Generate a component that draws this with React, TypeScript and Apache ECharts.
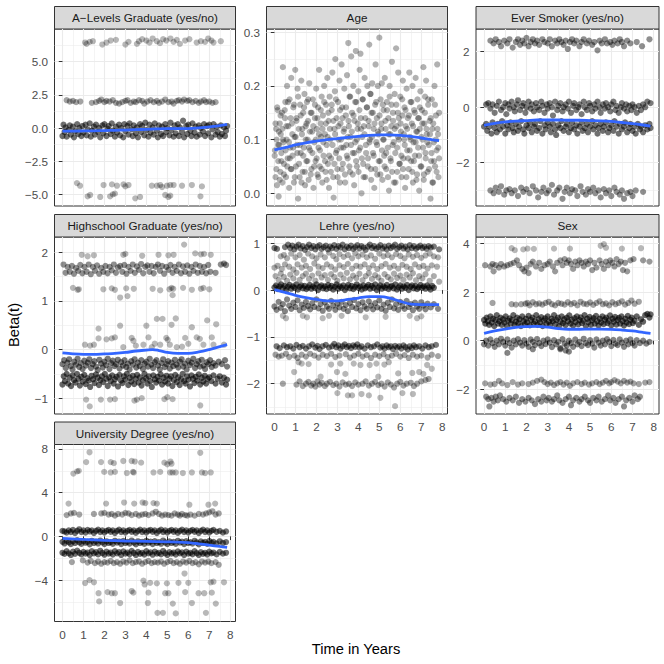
import React, { useEffect, useRef } from "react";
import * as echarts from "echarts";

// ---------------- DATA ----------------
const xTicks = [0, 1, 2, 3, 4, 5, 6, 7, 8];
const xMinor = [0.5, 1.5, 2.5, 3.5, 4.5, 5.5, 6.5, 7.5];

// A-Levels Graduate
const aLevTop = [[1.08,6.45],[1.15,6.35],[1.3,6.5],[1.45,6.55],[1.9,6.3],[2.1,6.45],[2.3,6.6],[2.55,6.65],[3.0,6.3],[3.15,6.5],[3.55,6.35],[3.65,6.55],[3.8,6.7],[4.0,6.6],[4.15,6.45],[4.3,6.75],[4.5,6.55],[4.65,6.4],[4.8,6.7],[4.95,6.6],[5.15,6.75],[5.3,6.5],[5.45,6.65],[5.6,6.35],[5.85,6.6],[6.05,6.7],[6.4,6.45],[6.6,6.55],[6.8,6.5],[6.95,6.75],[7.1,6.6],[7.2,6.45],[7.55,6.55]];
const aLev2 = [[0.2,2.1],[0.35,2.0],[0.5,2.05],[0.65,1.95],[0.85,2.0],[1.4,1.9],[1.6,1.95],[1.75,2.05],[1.85,2.15],[2.0,1.95],[2.1,2.05],[2.25,2.0],[2.4,2.1],[2.55,1.9],[2.7,1.85],[2.85,1.95],[3.0,2.05],[3.1,2.1],[3.25,1.9],[3.4,2.0],[3.5,1.95],[3.65,2.1],[3.8,2.05],[3.9,1.85],[4.05,2.0],[4.2,2.1],[4.35,1.95],[4.5,2.05],[4.6,1.9],[4.75,2.0],[4.9,2.15],[5.05,1.95],[5.2,2.0],[5.3,1.85],[5.45,2.05],[5.55,2.1],[5.7,2.0],[5.8,2.15],[5.95,2.05],[6.05,2.1],[6.2,1.95],[6.35,2.05],[6.5,1.9],[6.6,2.0],[6.75,2.1],[6.85,1.95],[7.0,2.0],[7.15,1.9],[7.3,1.95]];
const aLevMain = [[0.0,-0.6],[0.05,0.25],[0.1,-0.3],[0.15,0.05],[0.2,-0.65],[0.3,-0.15],[0.35,0.2],[0.4,-0.5],[0.5,0.1],[0.55,-0.7],[0.6,-0.25],[0.7,0.3],[0.75,-0.45],[0.8,0.0],[0.9,-0.6],[0.95,0.15],[1.0,-0.35],[1.1,0.25],[1.15,-0.55],[1.2,-0.1],[1.3,0.35],[1.35,-0.65],[1.4,-0.2],[1.5,0.1],[1.55,-0.5],[1.6,0.25],[1.7,-0.3],[1.75,0.0],[1.8,-0.7],[1.9,0.2],[1.95,-0.4],[2.0,0.3],[2.1,-0.6],[2.15,-0.05],[2.2,0.15],[2.3,-0.45],[2.35,0.35],[2.4,-0.2],[2.5,-0.65],[2.55,0.1],[2.6,-0.35],[2.7,0.25],[2.75,-0.55],[2.8,0.0],[2.9,-0.7],[2.95,0.3],[3.0,-0.25],[3.1,0.15],[3.15,-0.5],[3.2,0.35],[3.3,-0.1],[3.35,-0.6],[3.4,0.2],[3.5,-0.4],[3.55,0.05],[3.6,-0.7],[3.7,0.3],[3.75,-0.3],[3.8,0.15],[3.9,-0.55],[3.95,0.4],[4.0,-0.15],[4.1,-0.65],[4.15,0.25],[4.2,-0.35],[4.3,0.05],[4.35,-0.5],[4.4,0.35],[4.5,-0.2],[4.55,-0.7],[4.6,0.2],[4.7,-0.45],[4.75,0.1],[4.8,-0.6],[4.9,0.3],[4.95,-0.3],[5.0,0.0],[5.1,-0.55],[5.15,0.4],[5.2,-0.15],[5.3,-0.65],[5.35,0.2],[5.4,-0.4],[5.5,0.3],[5.55,-0.6],[5.6,0.05],[5.7,-0.3],[5.75,0.55],[5.8,-0.7],[5.9,0.15],[5.95,-0.45],[6.0,0.25],[6.1,-0.2],[6.15,-0.6],[6.2,0.35],[6.3,-0.35],[6.35,0.1],[6.4,-0.65],[6.5,0.2],[6.55,-0.5],[6.6,0.0],[6.7,-0.25],[6.75,0.3],[6.8,-0.6],[6.9,0.15],[6.95,-0.4],[7.0,0.25],[7.1,-0.7],[7.15,-0.1],[7.2,0.3],[7.3,-0.5],[7.35,0.1],[7.4,-0.3],[7.5,-0.65],[7.55,0.2],[7.6,-0.45],[7.7,0.05],[7.75,-0.6],[7.8,-0.2],[7.85,0.15]];
const aLevBot = [[0.69,-4.15],[0.84,-4.35],[1.96,-4.3],[2.36,-4.25],[2.6,-4.35],[2.91,-4.25],[3.0,-4.4],[3.15,-4.3],[4.26,-4.35],[4.5,-4.35],[4.66,-4.3],[4.75,-4.45],[4.98,-4.35],[5.14,-4.3],[5.3,-4.3],[5.7,-4.35],[6.17,-4.3],[6.65,-4.4],[1.2,-5.15],[1.32,-5.05],[1.8,-5.2],[2.27,-5.15],[2.4,-5.0],[2.5,-4.95],[3.47,-5.3],[3.7,-5.2],[4.9,-5.05],[5.05,-5.2],[5.14,-5.1],[6.58,-5.15]];
const aLevSmooth = [[0,-0.23],[0.5,-0.23],[1,-0.22],[1.5,-0.21],[2,-0.19],[2.5,-0.17],[3,-0.15],[3.5,-0.12],[4,-0.1],[4.5,-0.07],[5,-0.05],[5.5,-0.05],[6,-0.04],[6.5,0.01],[7,0.09],[7.5,0.18],[7.85,0.27]];

// Age
const ageCloud = [[0.02,0.08],[0.05,0.03],[0.08,0.12],[0.1,0.1],[0.12,0.015],[0.15,0.155],[0.18,0.06],[0.2,-0.006],[0.22,0.09],[0.25,0.13],[0.28,0.04],[0.3,0.11],[0.33,0.075],[0.36,0.15],[0.38,0.02],[0.4,0.235],[0.42,0.095],[0.45,0.055],
[0.5,0.14],[0.52,0.17],[0.55,0.03],[0.58,0.1],[0.6,0.2],[0.63,0.065],[0.66,0.125],[0.7,0.01],[0.72,0.175],[0.75,0.085],[0.78,0.045],[0.8,0.215],[0.83,0.13],[0.86,0.07],[0.9,0.16],[0.93,0.02],[0.96,0.105],[0.99,0.23],
[1.02,0.05],[1.05,0.14],[1.08,0.09],[1.1,0.195],[1.13,-0.01],[1.16,0.12],[1.2,0.03],[1.22,0.165],[1.25,0.075],[1.28,0.21],[1.31,0.11],[1.34,0.04],[1.37,0.15],[1.4,0.085],[1.43,0.185],[1.46,0.015],[1.49,0.125],
[1.52,0.06],[1.55,0.17],[1.58,0.1],[1.6,0.135],[1.63,0.025],[1.66,0.205],[1.7,0.08],[1.73,0.15],[1.76,0.045],[1.8,0.115],[1.83,0.175],[1.86,0.01],[1.9,0.095],[1.93,0.14],[1.96,0.06],[1.99,0.195],
[2.02,0.12],[2.05,0.035],[2.08,0.16],[2.1,0.085],[2.13,0.23],[2.16,0.05],[2.2,0.13],[2.22,0.105],[2.25,0.18],[2.28,0.02],[2.31,0.145],[2.34,0.07],[2.37,0.2],[2.4,0.11],[2.43,0.04],[2.46,0.165],[2.49,0.09],
[2.52,0.215],[2.55,0.055],[2.58,0.135],[2.6,0.01],[2.63,0.18],[2.66,0.1],[2.7,0.065],[2.73,0.155],[2.76,0.225],[2.8,0.03],[2.82,-0.008],[2.85,0.12],[2.88,0.19],[2.9,0.25],[2.93,0.075],[2.96,0.14],
[3.0,0.045],[3.03,0.17],[3.06,0.1],[3.1,0.21],[3.12,0.02],[3.15,0.13],[3.18,0.085],[3.2,0.24],[3.23,0.16],[3.26,0.055],[3.3,0.115],[3.33,0.195],[3.36,0.035],[3.4,0.145],[3.43,0.09],[3.46,0.22],[3.49,0.065],
[3.52,0.28],[3.55,0.125],[3.58,0.18],[3.6,0.04],[3.63,0.105],[3.66,0.255],[3.7,0.15],[3.73,0.075],[3.76,0.2],[3.8,0.015],[3.82,0.135],[3.85,0.095],[3.88,0.265],[3.9,0.17],[3.93,0.05],[3.96,0.12],
[4.0,0.19],[4.03,0.08],[4.06,0.23],[4.1,0.26],[4.12,0.14],[4.15,0.0],[4.18,0.105],[4.2,0.175],[4.23,0.055],[4.26,0.125],[4.3,0.215],[4.33,0.03],[4.36,0.09],[4.4,0.16],[4.43,0.2],[4.46,0.065],[4.49,0.135],
[4.52,0.277],[4.55,0.1],[4.58,0.185],[4.6,0.045],[4.63,0.15],[4.66,0.205],[4.7,0.075],[4.73,0.12],[4.76,0.01],[4.8,0.165],[4.82,0.24],[4.85,0.095],[4.88,0.14],[4.9,0.035],[4.93,0.2],[4.96,0.11],
[5.0,0.29],[5.03,0.06],[5.06,0.175],[5.1,0.13],[5.12,0.205],[5.15,0.025],[5.18,0.1],[5.2,0.155],[5.23,0.07],[5.26,0.215],[5.3,0.12],[5.33,0.045],[5.36,0.17],[5.4,0.085],[5.43,0.14],[5.46,0.005],[5.49,0.2],
[5.52,0.11],[5.55,0.06],[5.58,0.165],[5.6,0.245],[5.63,0.09],[5.66,0.135],[5.7,0.02],[5.73,0.185],[5.76,0.075],[5.8,0.27],[5.82,0.125],[5.85,0.04],[5.88,0.15],[5.9,0.225],[5.93,0.1],[5.96,0.055],
[6.0,0.18],[6.03,0.115],[6.06,0.03],[6.1,0.145],[6.12,0.21],[6.15,0.065],[6.18,0.1],[6.2,0.16],[6.23,0.01],[6.26,0.125],[6.3,0.195],[6.33,0.08],[6.36,0.14],[6.4,0.045],[6.43,0.225],[6.46,0.105],[6.49,0.17],
[6.52,0.06],[6.55,0.13],[6.58,0.2],[6.6,0.02],[6.63,0.095],[6.66,0.155],[6.7,0.07],[6.73,0.215],[6.76,0.115],[6.8,0.035],[6.82,0.175],[6.85,0.085],[6.88,0.14],[6.9,0.005],[6.93,0.12],[6.96,0.19],
[7.0,0.05],[7.03,0.155],[7.06,0.1],[7.1,0.235],[7.12,0.025],[7.15,0.13],[7.18,0.18],[7.2,0.075],[7.23,0.21],[7.26,0.11],[7.3,0.04],[7.33,0.165],[7.36,0.09],[7.4,0.135],[7.44,-0.01],[7.47,0.06],
[7.5,0.175],[7.53,0.12],[7.56,0.02],[7.6,0.095],[7.63,0.2],[7.66,0.05],[7.7,0.145],[7.73,0.08],[7.76,0.24],[7.8,0.11],[7.82,0.03],[7.85,0.065]];
const ageCore = [[0.01,0.07],[0.05,0.13],[0.09,0.045],[0.13,0.16],[0.17,0.09],[0.21,0.115],[0.25,0.025],[0.29,0.145],[0.33,0.06],[0.37,0.12],
[0.41,0.1],[0.45,0.035],[0.49,0.155],[0.53,0.08],[0.57,0.125],[0.61,0.05],[0.65,0.17],[0.69,0.095],[0.73,0.065],[0.77,0.14],
[0.81,0.045],[0.85,0.11],[0.89,0.085],[0.93,0.165],[0.97,0.03],[1.01,0.105],[1.05,0.135],[1.09,0.075],[1.13,0.18],[1.17,0.055],
[1.21,0.09],[1.25,0.145],[1.29,0.02],[1.33,0.12],[1.37,0.07],[1.41,0.16],[1.45,0.04],[1.49,0.1],[1.53,0.13],[1.57,0.06],
[1.61,0.175],[1.65,0.085],[1.69,0.115],[1.73,0.035],[1.77,0.15],[1.81,0.075],[1.85,0.125],[1.89,0.05],[1.93,0.165],[1.97,0.1],
[2.01,0.065],[2.05,0.14],[2.09,0.03],[2.13,0.11],[2.17,0.08],[2.21,0.155],[2.25,0.045],[2.29,0.12],[2.33,0.095],[2.37,0.17],
[2.41,0.06],[2.45,0.13],[2.49,0.025],[2.53,0.105],[2.57,0.15],[2.61,0.07],[2.65,0.12],[2.69,0.04],[2.73,0.165],[2.77,0.09],
[2.81,0.135],[2.85,0.055],[2.89,0.11],[2.93,0.175],[2.97,0.08],[3.01,0.03],[3.05,0.125],[3.09,0.065],[3.13,0.155],[3.17,0.1],
[3.21,0.045],[3.25,0.14],[3.29,0.085],[3.33,0.12],[3.37,0.02],[3.41,0.16],[3.45,0.07],[3.49,0.105],[3.53,0.135],[3.57,0.05],
[3.61,0.18],[3.65,0.09],[3.69,0.115],[3.73,0.035],[3.77,0.145],[3.81,0.075],[3.85,0.17],[3.89,0.06],[3.93,0.1],[3.97,0.13],
[4.01,0.04],[4.05,0.155],[4.09,0.085],[4.13,0.12],[4.17,0.065],[4.21,0.175],[4.25,0.03],[4.29,0.11],[4.33,0.14],[4.37,0.075],
[4.41,0.16],[4.45,0.05],[4.49,0.125],[4.53,0.095],[4.57,0.185],[4.61,0.025],[4.65,0.105],[4.69,0.15],[4.73,0.07],[4.77,0.13],
[4.81,0.045],[4.85,0.17],[4.89,0.09],[4.93,0.115],[4.97,0.06],[5.01,0.145],[5.05,0.035],[5.09,0.12],[5.13,0.08],[5.17,0.165],
[5.21,0.1],[5.25,0.05],[5.29,0.135],[5.33,0.075],[5.37,0.155],[5.41,0.03],[5.45,0.11],[5.49,0.18],[5.53,0.065],[5.57,0.125],
[5.61,0.04],[5.65,0.15],[5.69,0.095],[5.73,0.12],[5.77,0.02],[5.81,0.165],[5.85,0.085],[5.89,0.105],[5.93,0.14],[5.97,0.055],
[6.01,0.13],[6.05,0.07],[6.09,0.175],[6.13,0.045],[6.17,0.11],[6.21,0.09],[6.25,0.155],[6.29,0.03],[6.33,0.12],[6.37,0.065],
[6.41,0.145],[6.45,0.08],[6.49,0.1],[6.53,0.17],[6.57,0.04],[6.61,0.125],[6.65,0.06],[6.69,0.15],[6.73,0.095],[6.77,0.025],
[6.81,0.115],[6.85,0.14],[6.89,0.07],[6.93,0.16],[6.97,0.05],[7.01,0.105],[7.05,0.13],[7.09,0.085],[7.13,0.035],[7.17,0.15],
[7.21,0.065],[7.25,0.12],[7.29,0.095],[7.33,0.175],[7.37,0.045],[7.41,0.11],[7.45,0.14],[7.49,0.075],[7.53,0.02],[7.57,0.13],
[7.61,0.06],[7.65,0.165],[7.69,0.1],[7.73,0.04],[7.77,0.12],[7.81,0.085],[7.85,0.15]];
const ageSmooth = [[0,0.081],[0.5,0.085],[1,0.09],[1.5,0.094],[2,0.097],[2.5,0.1],[3,0.102],[3.5,0.104],[4,0.106],[4.5,0.108],[5,0.109],[5.5,0.109],[6,0.108],[6.5,0.106],[7,0.103],[7.5,0.1],[7.85,0.098]];

// Ever Smoker
const esTop = [[0.3,2.4],[0.45,2.3],[0.55,2.45],[0.7,2.35],[0.8,2.2],[0.95,2.4],[1.1,2.3],[1.2,2.45],[1.35,2.15],[1.5,2.35],[1.6,2.45],[1.7,2.25],[1.8,2.4],[1.9,2.3],[2.0,2.5],[2.1,2.2],[2.2,2.35],[2.3,2.45],[2.4,2.3],[2.5,2.4],[2.6,2.25],[2.75,2.45],[2.85,2.35],[3.0,2.3],[3.1,2.45],[3.2,2.2],[3.35,2.4],[3.45,2.3],[3.55,2.45],[3.65,2.35],[3.75,2.25],[3.85,2.4],[3.95,2.1],[4.05,2.35],[4.15,2.45],[4.25,2.3],[4.35,2.4],[4.5,2.2],[4.6,2.35],[4.7,2.45],[4.85,2.3],[4.95,2.4],[5.1,2.25],[5.2,2.35],[5.35,2.05],[5.45,2.4],[5.55,2.3],[5.7,2.45],[5.8,2.3],[5.95,2.35],[6.05,2.25],[6.15,2.4],[6.3,2.3],[6.4,2.45],[6.5,2.35],[6.6,2.2],[6.75,2.4],[6.9,2.3],[7.2,2.35],[7.45,2.2],[7.8,2.45]];
const esZero = [[0.1,0.1],[0.2,0.15],[0.3,-0.05],[0.4,0.1],[0.5,-0.2],[0.6,0.05],[0.7,0.2],[0.8,-0.1],[0.9,0.0],[1.0,0.15],[1.05,-0.25],[1.15,0.1],[1.2,-0.05],[1.3,0.2],[1.4,0.0],[1.45,-0.15],[1.55,0.1],[1.6,0.25],[1.7,-0.1],[1.8,0.05],[1.85,0.15],[1.95,-0.2],[2.0,0.0],[2.1,0.2],[2.2,-0.05],[2.25,0.1],[2.35,-0.15],[2.45,0.15],[2.5,0.0],[2.6,-0.1],[2.7,0.2],[2.75,0.05],[2.85,-0.2],[2.95,0.1],[3.0,-0.05],[3.1,0.15],[3.2,0.0],[3.25,-0.3],[3.35,0.2],[3.45,-0.1],[3.5,0.05],[3.6,0.15],[3.7,-0.15],[3.75,0.0],[3.85,0.1],[3.95,-0.05],[4.0,0.2],[4.1,-0.2],[4.2,0.05],[4.25,0.15],[4.35,-0.1],[4.45,0.0],[4.5,0.1],[4.6,-0.25],[4.7,0.2],[4.75,0.0],[4.85,-0.1],[4.95,0.15],[5.0,0.05],[5.1,-0.15],[5.2,0.1],[5.25,-0.05],[5.35,0.2],[5.45,0.0],[5.5,-0.2],[5.6,0.1],[5.7,-0.05],[5.75,0.15],[5.85,0.0],[5.95,-0.15],[6.0,0.1],[6.1,0.2],[6.2,-0.1],[6.25,0.05],[6.35,-0.2],[6.45,0.0],[6.5,0.15],[6.6,-0.05],[6.7,0.1],[6.75,-0.15],[6.85,0.05],[6.95,-0.1],[7.0,0.1],[7.1,0.0],[7.2,-0.2],[7.3,0.05],[7.4,-0.1],[7.5,0.1],[7.6,0.0],[7.7,0.2],[7.85,0.15]];
const esNeg = [[0.0,-0.7],[0.1,-0.6],[0.15,-0.85],[0.25,-0.7],[0.35,-0.95],[0.4,-0.55],[0.5,-0.75],[0.6,-0.9],[0.65,-0.6],[0.75,-0.8],[0.85,-0.5],[0.9,-0.7],[1.0,-0.95],[1.1,-0.65],[1.15,-0.8],[1.25,-0.55],[1.35,-0.75],[1.4,-0.9],[1.5,-0.6],[1.6,-0.85],[1.65,-0.7],[1.75,-0.5],[1.85,-0.8],[1.9,-0.95],[2.0,-0.65],[2.1,-0.75],[2.15,-0.55],[2.25,-0.9],[2.35,-0.7],[2.4,-0.6],[2.5,-0.85],[2.6,-0.75],[2.65,-0.5],[2.75,-0.95],[2.85,-0.65],[2.9,-0.8],[3.0,-0.55],[3.1,-0.7],[3.15,-0.9],[3.25,-0.6],[3.35,-0.8],[3.4,-1.0],[3.5,-0.65],[3.6,-0.75],[3.65,-0.5],[3.75,-0.85],[3.85,-0.7],[3.9,-0.6],[4.0,-0.9],[4.1,-0.75],[4.15,-0.55],[4.25,-0.8],[4.35,-0.65],[4.4,-0.95],[4.5,-0.7],[4.6,-0.55],[4.65,-0.85],[4.75,-0.75],[4.85,-0.6],[4.9,-0.9],[5.0,-0.7],[5.1,-0.5],[5.15,-0.8],[5.25,-0.65],[5.35,-0.95],[5.4,-0.75],[5.5,-0.6],[5.6,-0.85],[5.65,-0.7],[5.75,-0.55],[5.85,-0.9],[5.9,-0.75],[6.0,-0.65],[6.1,-0.85],[6.15,-0.5],[6.25,-0.7],[6.35,-0.95],[6.4,-0.6],[6.5,-0.8],[6.6,-0.7],[6.65,-0.55],[6.75,-0.9],[6.85,-0.75],[6.9,-0.6],[7.0,-0.85],[7.1,-0.7],[7.15,-0.95],[7.25,-0.6],[7.35,-0.8],[7.4,-0.7],[7.5,-0.9],[7.6,-0.65],[7.7,-0.8],[7.8,-0.6],[7.85,-0.75]];
const esBot = [[0.3,-3.0],[0.45,-3.1],[0.55,-2.9],[0.7,-3.05],[0.8,-2.85],[0.95,-3.15],[1.05,-3.0],[1.2,-2.95],[1.3,-3.1],[1.45,-3.0],[1.6,-3.2],[1.75,-2.9],[1.85,-3.05],[2.0,-2.95],[2.15,-3.1],[2.3,-2.85],[2.45,-3.0],[2.55,-3.25],[2.7,-3.05],[2.8,-2.9],[2.95,-3.1],[3.05,-3.0],[3.2,-2.8],[3.3,-3.15],[3.45,-3.0],[3.55,-2.9],[3.7,-3.3],[3.8,-3.05],[3.9,-2.9],[4.05,-3.1],[4.15,-2.95],[4.3,-3.0],[4.4,-3.2],[4.55,-2.85],[4.65,-3.05],[4.8,-3.15],[4.9,-2.95],[5.0,-3.05],[5.15,-2.9],[5.25,-3.1],[5.4,-3.0],[5.5,-3.25],[5.65,-2.95],[5.75,-3.1],[5.9,-3.0],[6.0,-3.2],[6.15,-2.9],[6.25,-3.05],[6.4,-3.15],[6.5,-3.0],[6.6,-3.3],[6.75,-3.1],[6.9,-3.05],[7.0,-3.2],[7.15,-3.0],[7.5,-3.05]];
const esSmooth = [[0,-0.65],[0.5,-0.58],[1,-0.53],[1.5,-0.5],[2,-0.48],[2.5,-0.46],[3,-0.46],[3.5,-0.46],[4,-0.47],[4.5,-0.47],[5,-0.48],[5.5,-0.49],[6,-0.51],[6.5,-0.55],[7,-0.59],[7.5,-0.64],[7.85,-0.68]];

// Highschool Graduate
const hsTop = [[0.05,1.75],[0.15,1.58],[0.25,1.7],[0.35,1.6],[0.45,1.72],[0.55,1.56],[0.65,1.68],[0.75,1.62],[0.85,1.74],[0.95,1.57],[1.05,1.7],[1.15,1.6],[1.25,1.75],[1.35,1.55],[1.45,1.7],[1.55,1.62],[1.65,1.73],[1.75,1.56],[1.85,1.68],[1.95,1.6],[2.05,1.72],[2.15,1.57],[2.25,1.7],[2.35,1.63],[2.45,1.75],[2.55,1.58],[2.65,1.69],[2.75,1.72],[2.85,1.6],[2.95,1.74],[3.05,1.56],[3.15,1.7],[3.25,1.62],[3.35,1.75],[3.45,1.58],[3.55,1.71],[3.65,1.64],[3.75,1.76],[3.85,1.57],[3.95,1.7],[4.05,1.73],[4.15,1.6],[4.25,1.72],[4.35,1.57],[4.45,1.7],[4.55,1.75],[4.65,1.62],[4.75,1.72],[4.85,1.56],[4.95,1.7],[5.05,1.64],[5.15,1.74],[5.25,1.58],[5.35,1.7],[5.45,1.62],[5.55,1.75],[5.65,1.57],[5.75,1.71],[5.85,1.6],[5.95,1.73],[6.05,1.56],[6.15,1.7],[6.25,1.62],[6.35,1.75],[6.45,1.58],[6.55,1.72],[6.65,1.6],[6.75,1.7],[6.85,1.57],[6.95,1.74],[7.05,1.6],[7.3,1.58],[7.55,1.75],[7.7,1.77],[7.8,1.74]];
const hsSparseHi = [[0.92,1.95],[1.2,1.92],[1.5,1.94],[2.9,1.95],[3.0,1.97],[3.8,1.93],[4.58,1.95],[5.05,1.94],[5.3,1.95],[5.8,2.16],[6.33,1.98],[6.6,1.96],[6.75,1.97],[7.07,1.95],[0.5,1.27],[0.72,1.23],[0.78,1.24],[1.95,1.24],[2.35,1.26],[2.5,1.23],[2.75,1.07],[3.04,1.26],[3.4,1.25],[3.1,1.1],[4.3,1.25],[4.66,1.22],[5.1,1.24],[5.2,1.27],[5.28,1.25],[5.25,1.12],[5.75,1.27],[6.17,1.23],[6.6,1.25],[6.72,1.27],[7.0,1.24]];
const hsSparseMid = [[1.72,0.43],[2.75,0.49],[4.0,0.49],[4.5,0.63],[4.77,0.63],[5.4,0.64],[5.2,0.51],[6.17,0.46],[6.9,0.6],[7.33,0.52],[1.07,0.1],[1.32,0.08],[1.5,0.1],[1.72,0.23],[2.1,0.21],[2.35,0.23],[2.5,0.25],[3.3,0.24],[3.38,0.18],[3.86,0.1],[4.1,0.25],[4.26,0.05],[4.66,0.1],[4.95,0.24],[5.02,0.2],[5.12,0.1],[5.45,0.05],[5.85,0.24],[6.4,0.25],[6.55,0.22],[6.72,0.1],[7.12,0.25],[7.2,0.1],[7.7,0.1],[3.5,0.08],[4.4,0.12],[5.7,0.06],[6.0,0.12],[2.9,0.05]];
const hsBandA = [[0.0,-0.3],[0.08,-0.22],[0.16,-0.38],[0.24,-0.27],[0.32,-0.2],[0.4,-0.34],[0.48,-0.41],[0.56,-0.25],[0.64,-0.31],[0.72,-0.19],[0.8,-0.36],[0.88,-0.28],[0.96,-0.4],[1.04,-0.23],[1.12,-0.33],[1.2,-0.27],[1.28,-0.2],[1.36,-0.38],[1.44,-0.3],[1.52,-0.24],[1.6,-0.35],[1.68,-0.42],[1.76,-0.21],[1.84,-0.29],[1.92,-0.37],[2.0,-0.25],[2.08,-0.32],[2.16,-0.19],[2.24,-0.4],[2.32,-0.28],[2.4,-0.23],[2.48,-0.34],[2.56,-0.3],[2.64,-0.21],[2.72,-0.39],[2.8,-0.26],[2.88,-0.33],[2.96,-0.22],[3.04,-0.36],[3.12,-0.29],[3.2,-0.41],[3.28,-0.24],[3.36,-0.31],[3.44,-0.2],[3.52,-0.37],[3.6,-0.27],[3.68,-0.34],[3.76,-0.22],[3.84,-0.4],[3.92,-0.29],[4.0,-0.25],[4.08,-0.35],[4.16,-0.19],[4.24,-0.31],[4.32,-0.38],[4.4,-0.26],[4.48,-0.22],[4.56,-0.33],[4.64,-0.41],[4.72,-0.28],[4.8,-0.2],[4.88,-0.36],[4.96,-0.3],[5.04,-0.24],[5.12,-0.39],[5.2,-0.27],[5.28,-0.34],[5.36,-0.21],[5.44,-0.31],[5.52,-0.37],[5.6,-0.25],[5.68,-0.2],[5.76,-0.35],[5.84,-0.29],[5.92,-0.41],[6.0,-0.23],[6.08,-0.32],[6.16,-0.27],[6.24,-0.19],[6.32,-0.38],[6.4,-0.3],[6.48,-0.24],[6.56,-0.35],[6.64,-0.21],[6.72,-0.33],[6.8,-0.4],[6.88,-0.26],[6.96,-0.3],[7.04,-0.22],[7.12,-0.36],[7.2,-0.28],[7.3,-0.33],[7.45,-0.25],[7.6,-0.3],[7.75,-0.22],[7.85,-0.35]];
const hsBandB = [[0.0,-0.72],[0.06,-0.55],[0.12,-0.65],[0.2,-0.5],[0.27,-0.7],[0.34,-0.58],[0.41,-0.75],[0.48,-0.53],[0.55,-0.63],[0.62,-0.68],[0.69,-0.5],[0.76,-0.6],[0.83,-0.74],[0.9,-0.56],[0.97,-0.66],[1.04,-0.52],[1.11,-0.71],[1.18,-0.59],[1.25,-0.64],[1.32,-0.77],[1.39,-0.54],[1.46,-0.61],[1.53,-0.69],[1.6,-0.51],[1.67,-0.58],[1.74,-0.73],[1.81,-0.63],[1.88,-0.55],[1.95,-0.67],[2.02,-0.5],[2.09,-0.6],[2.16,-0.75],[2.23,-0.57],[2.3,-0.65],[2.37,-0.53],[2.44,-0.7],[2.51,-0.61],[2.58,-0.56],[2.65,-0.76],[2.72,-0.52],[2.79,-0.64],[2.86,-0.69],[2.93,-0.55],[3.0,-0.62],[3.07,-0.5],[3.14,-0.73],[3.21,-0.58],[3.28,-0.66],[3.35,-0.54],[3.42,-0.71],[3.49,-0.6],[3.56,-0.52],[3.63,-0.68],[3.7,-0.57],[3.77,-0.74],[3.84,-0.63],[3.91,-0.5],[3.98,-0.59],[4.05,-0.7],[4.12,-0.55],[4.19,-0.65],[4.26,-0.77],[4.33,-0.53],[4.4,-0.61],[4.47,-0.68],[4.54,-0.56],[4.61,-0.64],[4.68,-0.51],[4.75,-0.72],[4.82,-0.58],[4.89,-0.66],[4.96,-0.54],[5.03,-0.7],[5.1,-0.6],[5.17,-0.55],[5.24,-0.75],[5.31,-0.63],[5.38,-0.52],[5.45,-0.67],[5.52,-0.57],[5.59,-0.73],[5.66,-0.61],[5.73,-0.5],[5.8,-0.65],[5.87,-0.7],[5.94,-0.55],[6.01,-0.62],[6.08,-0.76],[6.15,-0.53],[6.22,-0.6],[6.29,-0.69],[6.36,-0.56],[6.43,-0.64],[6.5,-0.51],[6.57,-0.72],[6.64,-0.58],[6.71,-0.66],[6.78,-0.54],[6.85,-0.7],[6.92,-0.6],[7.0,-0.57],[7.1,-0.65],[7.2,-0.53],[7.3,-0.7],[7.4,-0.6],[7.5,-0.55],[7.6,-0.68],[7.7,-0.58],[7.8,-0.72],[7.85,-0.62]];
const hsBot = [[1.13,-1.03],[1.3,-1.17],[1.83,-1.03],[2.27,-1.03],[2.5,-1.02],[3.43,-1.05],[3.55,-1.03],[3.78,-1.0],[4.86,-1.02],[5.0,-0.98],[5.25,-1.02],[6.57,-1.15]];
const hsSmooth = [[0,-0.07],[0.5,-0.09],[1,-0.1],[1.5,-0.1],[2,-0.09],[2.5,-0.08],[3,-0.06],[3.5,-0.03],[4,-0.01],[4.3,0.0],[4.6,-0.02],[5,-0.06],[5.5,-0.08],[6,-0.08],[6.5,-0.05],[7,0.0],[7.5,0.06],[7.85,0.1]];

// Lehre
const le09 = [[0.0,0.9],[0.12,0.88],[0.5,0.92],[0.65,0.97],[0.75,0.9],[0.85,0.95],[0.95,0.87],[1.05,0.93],[1.15,0.97],[1.25,0.89],[1.35,0.94],[1.45,0.86],[1.55,0.92],[1.65,0.97],[1.75,0.9],[1.85,0.94],[1.95,0.87],[2.05,0.93],[2.15,0.96],[2.25,0.88],[2.35,0.92],[2.45,0.95],[2.55,0.87],[2.65,0.93],[2.75,0.9],[2.85,0.96],[2.95,0.88],[3.05,0.94],[3.15,0.91],[3.25,0.97],[3.35,0.87],[3.45,0.93],[3.55,0.9],[3.65,0.95],[3.75,0.88],[3.85,0.92],[3.95,0.96],[4.05,0.89],[4.15,0.94],[4.25,0.91],[4.35,0.86],[4.45,0.93],[4.55,0.97],[4.65,0.9],[4.75,0.94],[4.85,0.88],[4.95,0.92],[5.05,0.96],[5.15,0.89],[5.25,0.93],[5.35,0.87],[5.45,0.95],[5.55,0.9],[5.65,0.93],[5.75,0.97],[5.85,0.88],[5.95,0.92],[6.05,0.95],[6.15,0.89],[6.25,0.93],[6.35,0.87],[6.45,0.96],[6.55,0.9],[6.65,0.94],[6.75,0.88],[6.85,0.92],[6.95,0.95],[7.05,0.9],[7.15,0.93],[7.25,0.88],[7.35,0.94],[7.45,0.91],[7.6,0.93],[7.85,0.87]];
const le07 = [[0.3,0.72],[0.45,0.75],[0.6,0.68],[0.8,0.78],[1.0,0.7],[1.2,0.75],[1.4,0.65],[1.6,0.78],[1.8,0.72],[2.0,0.68],[2.2,0.76],[2.4,0.7],[2.6,0.8],[2.8,0.73],[2.95,0.66],[3.1,0.77],[3.3,0.71],[3.5,0.75],[3.7,0.68],[3.85,0.79],[4.0,0.72],[4.2,0.76],[4.4,0.7],[4.6,0.74],[4.8,0.67],[5.0,0.78],[5.2,0.72],[5.4,0.75],[5.6,0.7],[5.8,0.77],[6.0,0.73],[6.2,0.68],[6.4,0.76],[6.6,0.71],[6.8,0.75],[7.0,0.69],[7.2,0.74],[7.4,0.78],[7.6,0.72],[7.8,0.7]];
const le05 = [[0.0,0.48],[0.15,0.52],[0.35,0.45],[0.5,0.55],[0.7,0.5],[0.9,0.44],[1.1,0.55],[1.3,0.48],[1.5,0.52],[1.7,0.45],[1.9,0.57],[2.1,0.5],[2.3,0.47],[2.5,0.55],[2.7,0.5],[2.9,0.44],[3.1,0.53],[3.3,0.49],[3.5,0.56],[3.7,0.46],[3.9,0.52],[4.1,0.5],[4.3,0.55],[4.5,0.47],[4.7,0.53],[4.9,0.45],[5.1,0.51],[5.3,0.56],[5.5,0.48],[5.7,0.52],[5.9,0.46],[6.1,0.54],[6.3,0.5],[6.5,0.45],[6.7,0.55],[6.9,0.49],[7.1,0.52],[7.3,0.46],[7.5,0.53],[7.75,0.5]];
const le03 = [[0.05,0.3],[0.2,0.22],[0.3,0.35],[0.45,0.28],[0.6,0.2],[0.75,0.33],[0.9,0.25],[1.05,0.37],[1.2,0.22],[1.35,0.3],[1.5,0.35],[1.65,0.24],[1.8,0.31],[1.95,0.2],[2.1,0.36],[2.25,0.27],[2.4,0.32],[2.55,0.22],[2.7,0.34],[2.85,0.28],[3.0,0.2],[3.15,0.33],[3.3,0.25],[3.45,0.37],[3.6,0.23],[3.75,0.31],[3.9,0.26],[4.05,0.35],[4.2,0.21],[4.35,0.3],[4.5,0.36],[4.65,0.24],[4.8,0.32],[4.95,0.27],[5.1,0.2],[5.25,0.34],[5.4,0.28],[5.55,0.23],[5.7,0.35],[5.85,0.26],[6.0,0.31],[6.15,0.22],[6.3,0.33],[6.45,0.27],[6.6,0.36],[6.75,0.21],[6.9,0.3],[7.05,0.25],[7.2,0.34],[7.4,0.2],[7.6,0.3],[7.85,0.18]];
const le00 = [[0.0,0.06],[0.08,0.1],[0.16,0.02],[0.24,0.08],[0.32,0.12],[0.4,0.04],[0.48,0.09],[0.56,0.0],[0.64,0.07],[0.72,0.11],[0.8,0.03],[0.88,0.08],[0.96,0.05],[1.04,0.12],[1.12,0.01],[1.2,0.07],[1.28,0.1],[1.36,0.04],[1.44,0.09],[1.52,0.02],[1.6,0.06],[1.68,0.11],[1.76,0.03],[1.84,0.08],[1.92,0.05],[2.0,0.12],[2.08,0.0],[2.16,0.07],[2.24,0.1],[2.32,0.04],[2.4,0.08],[2.48,0.02],[2.56,0.11],[2.64,0.05],[2.72,0.09],[2.8,0.01],[2.88,0.07],[2.96,0.12],[3.04,0.03],[3.12,0.08],[3.2,0.05],[3.28,0.1],[3.36,0.0],[3.44,0.06],[3.52,0.11],[3.6,0.04],[3.68,0.09],[3.76,0.02],[3.84,0.07],[3.92,0.12],[4.0,0.05],[4.08,0.08],[4.16,0.01],[4.24,0.1],[4.32,0.04],[4.4,0.07],[4.48,0.11],[4.56,0.03],[4.64,0.09],[4.72,0.05],[4.8,0.12],[4.88,0.0],[4.96,0.06],[5.04,0.1],[5.12,0.03],[5.2,0.08],[5.28,0.05],[5.36,0.11],[5.44,0.02],[5.52,0.07],[5.6,0.09],[5.68,0.04],[5.76,0.12],[5.84,0.01],[5.92,0.06],[6.0,0.1],[6.08,0.03],[6.16,0.08],[6.24,0.05],[6.32,0.11],[6.4,0.0],[6.48,0.07],[6.56,0.1],[6.64,0.04],[6.72,0.09],[6.8,0.02],[6.88,0.06],[6.96,0.11],[7.04,0.05],[7.12,0.08],[7.2,0.03],[7.28,0.1],[7.36,0.06],[7.44,0.01],[7.52,0.09],[7.6,0.05]];
const leM03 = [[0.0,-0.35],[0.1,-0.42],[0.2,-0.25],[0.3,-0.38],[0.4,-0.3],[0.5,-0.45],[0.6,-0.2],[0.7,-0.33],[0.8,-0.4],[0.9,-0.27],[1.0,-0.36],[1.1,-0.22],[1.2,-0.43],[1.3,-0.31],[1.4,-0.38],[1.5,-0.25],[1.6,-0.34],[1.7,-0.41],[1.8,-0.28],[1.9,-0.36],[2.0,-0.2],[2.1,-0.39],[2.2,-0.3],[2.3,-0.44],[2.4,-0.26],[2.5,-0.35],[2.6,-0.4],[2.7,-0.23],[2.8,-0.33],[2.9,-0.42],[3.0,-0.29],[3.1,-0.37],[3.2,-0.25],[3.3,-0.4],[3.4,-0.32],[3.5,-0.45],[3.6,-0.27],[3.7,-0.36],[3.8,-0.21],[3.9,-0.39],[4.0,-0.3],[4.1,-0.43],[4.2,-0.26],[4.3,-0.35],[4.4,-0.4],[4.5,-0.24],[4.6,-0.33],[4.7,-0.41],[4.8,-0.28],[4.9,-0.37],[5.0,-0.22],[5.1,-0.4],[5.2,-0.31],[5.3,-0.44],[5.4,-0.27],[5.5,-0.36],[5.6,-0.2],[5.7,-0.39],[5.8,-0.3],[5.9,-0.42],[6.0,-0.25],[6.1,-0.34],[6.2,-0.4],[6.3,-0.23],[6.4,-0.36],[6.5,-0.3],[6.6,-0.43],[6.7,-0.27],[6.8,-0.35],[6.9,-0.4],[7.0,-0.26],[7.1,-0.33],[7.2,-0.41],[7.3,-0.29],[7.45,-0.37],[7.6,-0.3],[7.8,-0.4]];
const leM06 = [[0.4,-0.55],[0.55,-0.6],[1.35,-0.55],[1.55,-0.58],[2.3,-0.6],[2.6,-0.55],[3.2,-0.55],[4.35,-0.58],[5.3,-0.57],[6.45,-0.55],[6.8,-0.6],[7.0,-0.56]];
const leM12 = [[0.1,-1.2],[0.25,-1.24],[0.45,-1.18],[0.6,-1.22],[0.75,-1.2],[0.9,-1.25],[1.05,-1.17],[1.2,-1.22],[1.35,-1.19],[1.5,-1.25],[1.65,-1.2],[1.8,-1.16],[1.95,-1.23],[2.05,-1.19],[2.15,-1.26],[2.3,-1.2],[2.45,-1.17],[2.6,-1.23],[2.75,-1.2],[2.85,-1.15],[2.95,-1.22],[3.05,-1.18],[3.15,-1.25],[3.25,-1.2],[3.35,-1.16],[3.45,-1.22],[3.55,-1.19],[3.65,-1.24],[3.75,-1.18],[3.85,-1.21],[3.95,-1.16],[4.05,-1.23],[4.15,-1.2],[4.3,-1.25],[4.45,-1.18],[4.6,-1.22],[4.75,-1.2],[4.9,-1.16],[5.05,-1.23],[5.15,-1.2],[5.25,-1.25],[5.35,-1.18],[5.45,-1.22],[5.55,-1.2],[5.65,-1.26],[5.75,-1.19],[5.85,-1.23],[5.95,-1.2],[6.05,-1.25],[6.15,-1.18],[6.25,-1.22],[6.35,-1.27],[6.45,-1.2],[6.55,-1.24],[6.65,-1.18],[6.75,-1.22],[6.9,-1.2],[7.05,-1.25],[7.2,-1.18],[7.35,-1.22],[7.5,-1.2],[7.7,-1.17]];
const leM14 = [[0.05,-1.38],[0.2,-1.42],[0.35,-1.4],[0.55,-1.36],[0.7,-1.43],[0.95,-1.4],[1.1,-1.45],[1.3,-1.38],[1.5,-1.42],[1.7,-1.36],[1.9,-1.4],[2.1,-1.44],[2.3,-1.38],[2.5,-1.41],[2.7,-1.36],[2.9,-1.43],[3.1,-1.4],[3.4,-1.37],[3.6,-1.44],[3.8,-1.4],[4.0,-1.36],[4.2,-1.42],[4.4,-1.39],[4.6,-1.45],[4.8,-1.38],[5.0,-1.41],[5.2,-1.37],[5.4,-1.43],[5.6,-1.4],[5.8,-1.36],[6.0,-1.42],[6.2,-1.39],[6.4,-1.45],[6.6,-1.38],[6.8,-1.42],[7.0,-1.4],[7.3,-1.44],[7.5,-1.38],[7.8,-1.41]];
const leM17 = [[0.94,-1.75],[1.15,-1.54],[1.3,-1.57],[1.63,-1.58],[2.7,-1.59],[2.98,-1.75],[3.14,-1.57],[3.38,-1.79],[3.78,-1.57],[4.1,-1.6],[4.54,-1.6],[4.86,-1.57],[5.24,-1.59],[5.45,-1.54],[5.9,-1.78],[6.57,-1.77],[6.9,-1.75],[7.1,-1.79],[7.28,-1.6],[7.5,-1.68],[2.2,-1.85],[4.95,-1.85]];
const leM20 = [[0.4,-2.0],[1.05,-2.02],[1.2,-1.95],[1.35,-2.05],[1.5,-2.0],[1.62,-1.96],[1.75,-2.04],[1.85,-2.0],[1.95,-2.06],[2.05,-1.95],[2.15,-2.02],[2.25,-1.98],[2.4,-2.05],[2.5,-2.0],[2.65,-1.96],[2.8,-2.03],[2.95,-2.0],[3.1,-2.06],[3.25,-1.97],[3.4,-2.02],[3.55,-2.0],[3.7,-2.05],[3.85,-1.97],[4.0,-2.02],[4.2,-2.0],[4.35,-1.95],[4.5,-2.04],[4.65,-2.0],[4.8,-1.96],[4.95,-2.03],[5.1,-2.0],[5.25,-2.06],[5.4,-1.97],[5.55,-2.02],[5.7,-2.08],[5.85,-2.0],[6.0,-1.96],[6.15,-2.04],[6.3,-2.0],[6.5,-1.98],[6.65,-2.05],[6.8,-2.0],[7.0,-1.95],[7.2,-1.92],[7.35,-1.9]];
const leM23 = [[3.0,-2.2],[3.5,-2.25],[3.7,-2.25],[4.15,-2.22],[4.5,-2.25],[5.05,-2.3],[5.75,-2.48],[6.1,-2.2],[6.6,-2.22]];
const leSmooth = [[0,0.01],[0.5,-0.05],[1,-0.11],[1.5,-0.16],[2,-0.2],[2.5,-0.23],[3,-0.23],[3.5,-0.2],[4,-0.17],[4.5,-0.14],[5,-0.14],[5.5,-0.17],[6,-0.24],[6.5,-0.3],[7,-0.31],[7.5,-0.31],[7.85,-0.31]];

// Sex
const sx38 = [[1.3,3.8],[1.45,3.72],[1.85,3.75],[2.05,3.78],[2.35,3.77],[3.3,3.78],[4.05,3.78],[5.5,3.9],[5.65,3.97],[5.75,3.82],[6.5,3.78],[7.4,3.8]];
const sx32 = [[0.05,3.1],[0.3,3.05],[0.4,3.15],[0.45,2.85],[0.55,3.1],[0.7,3.0],[0.8,3.15],[0.95,3.05],[1.1,3.1],[1.25,3.15],[1.4,3.2],[1.55,3.3],[1.65,3.1],[1.8,2.95],[1.9,2.85],[2.0,3.0],[2.1,2.78],[2.2,3.15],[2.3,3.25],[2.45,3.05],[2.6,3.2],[2.7,2.95],[2.85,3.1],[3.0,3.15],[3.1,3.25],[3.25,3.05],[3.35,2.85],[3.45,3.2],[3.6,3.3],[3.7,3.1],[3.8,3.35],[3.9,3.2],[4.0,3.3],[4.1,3.15],[4.2,2.95],[4.3,3.25],[4.4,3.1],[4.5,3.3],[4.6,3.2],[4.7,3.05],[4.8,3.25],[4.9,3.15],[5.0,3.3],[5.1,2.9],[5.2,3.2],[5.3,3.0],[5.45,3.3],[5.55,3.15],[5.65,2.95],[5.75,3.25],[5.85,3.1],[5.95,3.3],[6.05,3.2],[6.15,3.05],[6.25,3.35],[6.35,3.15],[6.45,3.25],[6.55,2.9],[6.65,3.2],[6.75,2.85],[6.9,3.3],[7.05,3.35],[7.5,3.3],[7.8,3.25]];
const sx15 = [[0.4,1.55],[1.3,1.5],[1.5,1.48],[1.75,1.5],[1.95,1.52],[2.05,1.55],[2.15,1.45],[2.3,1.58],[2.45,1.5],[2.6,1.53],[2.75,1.48],[2.9,1.55],[3.05,1.6],[3.2,1.5],[3.35,1.45],[3.5,1.55],[3.65,1.52],[3.8,1.48],[3.95,1.58],[4.1,1.5],[4.25,1.55],[4.4,1.45],[4.55,1.6],[4.7,1.52],[4.85,1.5],[5.0,1.57],[5.15,1.47],[5.3,1.55],[5.45,1.62],[5.6,1.5],[5.75,1.53],[5.9,1.45],[6.05,1.58],[6.2,1.5],[6.35,1.55],[6.5,1.62],[6.65,1.48],[6.8,1.55],[6.95,1.65],[7.1,1.52],[7.3,1.6]];
const sx08 = [[0.0,0.85],[0.06,0.7],[0.12,0.95],[0.18,0.8],[0.24,0.65],[0.3,1.0],[0.36,0.75],[0.42,0.9],[0.48,0.6],[0.54,0.85],[0.6,1.05],[0.66,0.7],[0.72,0.8],[0.78,0.95],[0.84,0.65],[0.9,0.88],[0.96,0.75],[1.02,1.0],[1.08,0.6],[1.14,0.82],[1.2,0.92],[1.26,0.7],[1.32,0.85],[1.38,1.05],[1.44,0.65],[1.5,0.78],[1.56,0.95],[1.62,0.72],[1.68,0.88],[1.74,0.6],[1.8,1.0],[1.86,0.8],[1.92,0.68],[1.98,0.9],[2.04,0.75],[2.1,1.02],[2.16,0.63],[2.22,0.85],[2.28,0.95],[2.34,0.7],[2.4,0.8],[2.46,1.05],[2.52,0.65],[2.58,0.88],[2.64,0.75],[2.7,0.97],[2.76,0.6],[2.82,0.83],[2.88,0.92],[2.94,0.7],[3.0,1.0],[3.06,0.78],[3.12,0.65],[3.18,0.9],[3.24,0.8],[3.3,1.05],[3.36,0.68],[3.42,0.85],[3.48,0.95],[3.54,0.6],[3.6,0.78],[3.66,1.0],[3.72,0.72],[3.78,0.88],[3.84,0.64],[3.9,0.95],[3.96,0.8],[4.02,1.04],[4.08,0.7],[4.14,0.86],[4.2,0.62],[4.26,0.93],[4.32,0.77],[4.38,1.0],[4.44,0.67],[4.5,0.85],[4.56,0.96],[4.62,0.72],[4.68,0.82],[4.74,1.05],[4.8,0.6],[4.86,0.9],[4.92,0.76],[4.98,0.98],[5.04,0.65],[5.1,0.84],[5.16,0.93],[5.22,0.7],[5.28,1.02],[5.34,0.8],[5.4,0.62],[5.46,0.9],[5.52,0.75],[5.58,1.0],[5.64,0.68],[5.7,0.87],[5.76,0.95],[5.82,0.72],[5.88,0.82],[5.94,1.04],[6.0,0.63],[6.06,0.9],[6.12,0.78],[6.18,0.98],[6.24,0.66],[6.3,0.85],[6.36,0.94],[6.42,0.7],[6.48,1.0],[6.54,0.8],[6.6,0.62],[6.66,0.9],[6.72,0.75],[6.78,1.02],[6.84,0.68],[6.9,0.86],[6.96,0.95],[7.02,0.72],[7.1,0.82],[7.2,1.0],[7.3,0.65],[7.4,0.88],[7.5,0.78],[7.6,1.05],[7.7,1.1],[7.8,0.95],[7.85,1.08]];
const sx00 = [[0.0,-0.15],[0.1,0.0],[0.2,-0.2],[0.3,0.05],[0.4,-0.1],[0.5,-0.25],[0.6,0.0],[0.7,-0.15],[0.8,0.08],[0.9,-0.05],[1.0,-0.2],[1.1,0.05],[1.2,-0.1],[1.3,-0.28],[1.4,0.0],[1.5,-0.15],[1.6,0.06],[1.7,-0.08],[1.8,-0.2],[1.9,0.02],[2.0,-0.12],[2.1,-0.25],[2.2,0.05],[2.3,-0.05],[2.4,-0.18],[2.5,0.07],[2.6,-0.1],[2.7,-0.22],[2.8,0.0],[2.9,-0.14],[3.0,0.05],[3.1,-0.08],[3.2,-0.26],[3.3,0.02],[3.4,-0.15],[3.5,-0.05],[3.6,-0.3],[3.7,0.06],[3.8,-0.12],[3.9,-0.2],[4.0,0.0],[4.1,-0.1],[4.2,-0.25],[4.3,0.05],[4.4,-0.15],[4.5,-0.05],[4.6,-0.22],[4.7,0.08],[4.8,-0.1],[4.9,-0.18],[5.0,0.02],[5.1,-0.12],[5.2,-0.28],[5.3,0.05],[5.4,-0.08],[5.5,-0.2],[5.6,0.0],[5.7,-0.15],[5.8,0.06],[5.9,-0.05],[6.0,-0.22],[6.1,0.03],[6.2,-0.12],[6.3,-0.18],[6.4,0.05],[6.5,-0.08],[6.6,-0.25],[6.7,0.0],[6.8,-0.15],[6.9,0.05],[7.0,-0.1],[7.1,-0.2],[7.2,0.02],[7.35,-0.1],[7.5,0.0],[7.65,-0.12],[7.8,-0.05],[1.1,-0.5],[2.3,-0.35],[3.6,-0.35],[3.85,-0.4],[4.0,-0.45]];
const sxM17 = [[0.05,-1.75],[0.3,-1.8],[0.5,-1.78],[0.7,-1.65],[0.85,-1.75],[1.1,-1.82],[1.35,-1.7],[1.6,-1.8],[1.8,-1.75],[2.1,-1.78],[2.3,-1.72],[2.5,-1.65],[2.7,-1.6],[2.85,-1.7],[3.0,-1.78],[3.15,-1.72],[3.3,-1.82],[3.45,-1.75],[3.6,-1.7],[3.75,-1.8],[3.9,-1.72],[4.05,-1.85],[4.2,-1.75],[4.4,-1.7],[4.6,-1.78],[4.75,-1.72],[4.95,-1.8],[5.1,-1.75],[5.3,-1.7],[5.45,-1.78],[5.6,-1.72],[5.75,-1.65],[5.9,-1.75],[6.0,-1.7],[6.15,-1.62],[6.3,-1.68],[6.45,-1.75],[6.6,-1.65],[6.75,-1.72],[6.9,-1.68],[7.05,-1.75],[7.3,-1.78],[7.6,-1.72],[7.8,-1.7]];
const sxM24 = [[0.1,-2.3],[0.2,-2.4],[0.25,-2.7],[0.35,-2.35],[0.45,-2.5],[0.55,-2.3],[0.65,-2.45],[0.75,-2.25],[0.9,-2.4],[1.05,-2.5],[1.2,-2.35],[1.35,-2.45],[1.5,-2.3],[1.65,-2.55],[1.8,-2.4],[1.95,-2.5],[2.1,-2.35],[2.25,-2.45],[2.4,-2.6],[2.55,-2.4],[2.7,-2.5],[2.8,-2.3],[2.95,-2.45],[3.05,-2.35],[3.2,-2.5],[3.3,-2.4],[3.45,-2.25],[3.55,-2.45],[3.7,-2.55],[3.85,-2.4],[4.0,-2.3],[4.1,-2.65],[4.2,-2.45],[4.35,-2.35],[4.5,-2.5],[4.6,-2.4],[4.75,-2.3],[4.9,-2.45],[5.0,-2.55],[5.15,-2.35],[5.3,-2.45],[5.4,-2.3],[5.55,-2.5],[5.7,-2.4],[5.85,-2.25],[5.95,-2.45],[6.1,-2.35],[6.2,-2.55],[6.35,-2.4],[6.5,-2.3],[6.6,-2.7],[6.7,-2.45],[6.85,-2.35],[7.0,-2.5],[7.1,-2.25],[7.25,-2.4],[7.35,-2.3]];
const sxSmooth = [[0,0.3],[0.5,0.4],[1,0.48],[1.5,0.55],[2,0.58],[2.5,0.59],[3,0.56],[3.5,0.5],[4,0.47],[4.5,0.47],[5,0.48],[5.5,0.48],[6,0.47],[6.5,0.44],[7,0.4],[7.5,0.34],[7.85,0.3]];

// University Degree
const uTop = [[1.29,7.7],[6.57,7.65],[1.13,6.8],[1.84,6.8],[2.3,6.8],[2.45,6.7],[2.9,6.9],[3.3,6.9],[3.45,6.85],[3.75,6.75],[4.86,6.75],[5.0,6.6],[5.15,6.85],[5.2,6.65],[0.52,5.75],[0.7,5.95],[0.78,6.0],[1.99,5.9],[2.3,5.85],[2.5,5.9],[3.07,5.8],[3.36,5.9],[3.4,5.85],[4.34,5.85],[4.66,5.9],[5.13,5.85],[5.25,5.85],[5.4,5.85],[5.74,5.8],[6.17,5.85],[6.65,5.85],[6.8,5.8],[7.07,5.85]];
const u3 = [[0.29,3.0],[2.08,3.0],[2.94,3.1],[3.42,3.0],[3.82,3.1],[3.95,3.05],[4.34,3.05],[4.5,3.0],[6.05,2.9],[6.96,2.9],[7.28,3.0]];
const u2 = [[0.2,1.95],[0.4,2.1],[0.55,2.15],[0.8,2.0],[1.5,2.05],[1.85,2.1],[2.0,2.15],[2.2,2.0],[2.35,2.05],[2.5,1.9],[2.65,2.05],[2.85,2.0],[3.0,2.15],[3.15,2.1],[3.3,1.95],[3.5,2.05],[3.65,1.9],[3.8,2.0],[3.95,2.05],[4.1,1.95],[4.3,2.1],[4.45,2.25],[4.6,2.05],[4.75,1.9],[4.9,2.0],[5.05,1.95],[5.2,1.9],[5.35,2.1],[5.5,2.0],[5.6,1.9],[5.7,2.05],[5.85,1.95],[5.95,1.9],[6.1,2.0],[6.3,1.9],[6.5,2.05],[6.7,2.0],[6.85,2.1],[7.0,2.2],[7.15,2.3],[7.3,2.0],[7.45,2.1]];
const u04 = [[0.0,0.5],[0.1,0.45],[0.2,0.35],[0.3,0.55],[0.4,0.4],[0.5,0.6],[0.6,0.3],[0.7,0.5],[0.8,0.65],[0.9,0.4],[1.0,0.55],[1.1,0.35],[1.2,0.6],[1.3,0.45],[1.4,0.55],[1.5,0.3],[1.6,0.5],[1.7,0.62],[1.8,0.4],[1.9,0.55],[2.0,0.35],[2.1,0.5],[2.2,0.6],[2.3,0.42],[2.4,0.55],[2.5,0.3],[2.6,0.5],[2.7,0.62],[2.8,0.4],[2.9,0.55],[3.0,0.35],[3.1,0.5],[3.2,0.6],[3.3,0.42],[3.4,0.55],[3.5,0.32],[3.6,0.5],[3.7,0.62],[3.8,0.4],[3.9,0.55],[4.0,0.35],[4.1,0.52],[4.2,0.6],[4.3,0.42],[4.4,0.55],[4.5,0.3],[4.6,0.5],[4.7,0.62],[4.8,0.4],[4.9,0.55],[5.0,0.35],[5.1,0.5],[5.2,0.6],[5.3,0.42],[5.4,0.55],[5.5,0.32],[5.6,0.5],[5.7,0.62],[5.8,0.4],[5.9,0.55],[6.0,0.35],[6.1,0.5],[6.2,0.6],[6.3,0.42],[6.4,0.55],[6.5,0.3],[6.6,0.5],[6.7,0.62],[6.8,0.4],[6.9,0.55],[7.0,0.35],[7.1,0.5],[7.2,0.6],[7.35,0.42],[7.5,0.5],[7.65,0.35],[7.8,0.45]];
const u05 = [[0.0,-0.5],[0.1,-0.65],[0.2,-0.4],[0.3,-0.55],[0.4,-0.7],[0.5,-0.45],[0.6,-0.6],[0.7,-0.35],[0.8,-0.55],[0.9,-0.68],[1.0,-0.42],[1.1,-0.58],[1.2,-0.5],[1.3,-0.72],[1.4,-0.4],[1.5,-0.6],[1.6,-0.48],[1.7,-0.65],[1.8,-0.38],[1.9,-0.55],[2.0,-0.7],[2.1,-0.45],[2.2,-0.6],[2.3,-0.52],[2.4,-0.68],[2.5,-0.4],[2.6,-0.57],[2.7,-0.47],[2.8,-0.7],[2.9,-0.42],[3.0,-0.6],[3.1,-0.5],[3.2,-0.66],[3.3,-0.38],[3.4,-0.56],[3.5,-0.72],[3.6,-0.45],[3.7,-0.6],[3.8,-0.5],[3.9,-0.68],[4.0,-0.4],[4.1,-0.58],[4.2,-0.48],[4.3,-0.7],[4.4,-0.43],[4.5,-0.6],[4.6,-0.52],[4.7,-0.67],[4.8,-0.38],[4.9,-0.56],[5.0,-0.7],[5.1,-0.46],[5.2,-0.6],[5.3,-0.5],[5.4,-0.68],[5.5,-0.4],[5.6,-0.57],[5.7,-0.48],[5.8,-0.7],[5.9,-0.44],[6.0,-0.6],[6.1,-0.52],[6.2,-0.66],[6.3,-0.4],[6.4,-0.56],[6.5,-0.72],[6.6,-0.46],[6.7,-0.6],[6.8,-0.5],[6.9,-0.68],[7.0,-0.42],[7.1,-0.58],[7.2,-0.5],[7.35,-0.65],[7.5,-0.45],[7.65,-0.6],[7.8,-0.52]];
const u15 = [[0.0,-1.5],[0.1,-1.6],[0.2,-1.35],[0.3,-1.55],[0.4,-1.7],[0.5,-1.4],[0.6,-1.6],[0.7,-1.3],[0.8,-1.5],[0.9,-1.65],[1.0,-1.42],[1.1,-1.58],[1.2,-1.48],[1.3,-1.7],[1.4,-1.35],[1.5,-1.55],[1.6,-1.45],[1.7,-1.65],[1.8,-1.32],[1.9,-1.52],[2.0,-1.68],[2.1,-1.4],[2.2,-1.58],[2.3,-1.48],[2.4,-1.66],[2.5,-1.36],[2.6,-1.55],[2.7,-1.45],[2.8,-1.7],[2.9,-1.38],[3.0,-1.58],[3.1,-1.48],[3.2,-1.64],[3.3,-1.33],[3.4,-1.52],[3.5,-1.7],[3.6,-1.42],[3.7,-1.6],[3.8,-1.5],[3.9,-1.66],[4.0,-1.36],[4.1,-1.56],[4.2,-1.46],[4.3,-1.68],[4.4,-1.4],[4.5,-1.58],[4.6,-1.5],[4.7,-1.65],[4.8,-1.34],[4.9,-1.54],[5.0,-1.7],[5.1,-1.44],[5.2,-1.58],[5.3,-1.48],[5.4,-1.66],[5.5,-1.38],[5.6,-1.56],[5.7,-1.46],[5.8,-1.7],[5.9,-1.4],[6.0,-1.58],[6.1,-1.5],[6.2,-1.64],[6.3,-1.36],[6.4,-1.54],[6.5,-1.7],[6.6,-1.44],[6.7,-1.6],[6.8,-1.5],[6.9,-1.66],[7.0,-1.4],[7.1,-1.56],[7.2,-1.48],[7.35,-1.65],[7.5,-1.42],[7.65,-1.58],[7.8,-1.5]];
const u23 = [[0.45,-2.35],[0.97,-2.2],[1.2,-2.4],[1.35,-2.25],[1.55,-2.45],[1.7,-2.3],[1.85,-2.5],[2.0,-2.35],[2.15,-2.4],[2.3,-2.25],[2.45,-2.45],[2.6,-2.35],[2.75,-2.5],[2.9,-2.3],[3.05,-2.4],[3.2,-2.2],[3.35,-2.45],[3.5,-2.35],[3.65,-2.3],[3.8,-2.5],[3.95,-2.35],[4.1,-2.25],[4.25,-2.45],[4.4,-2.35],[4.55,-2.4],[4.7,-2.3],[4.85,-2.5],[5.0,-2.35],[5.15,-2.25],[5.3,-2.45],[5.45,-2.35],[5.6,-2.5],[5.75,-2.3],[5.9,-2.4],[6.05,-2.25],[6.2,-2.45],[6.35,-2.35],[6.5,-2.55],[6.65,-2.3],[6.8,-2.4],[6.95,-2.3],[7.1,-2.45],[7.3,-2.35],[7.45,-2.6]];
const uBot = [[5.82,-3.4],[1.08,-4.27],[1.29,-4.0],[1.5,-4.2],[3.86,-4.05],[3.92,-4.4],[4.18,-4.25],[4.5,-4.3],[4.98,-4.3],[5.53,-4.25],[6.0,-4.25],[7.07,-4.2],[7.2,-4.15],[7.7,-4.2],[1.72,-5.2],[2.15,-5.1],[2.35,-5.2],[2.5,-5.2],[3.3,-5.0],[3.38,-5.15],[4.1,-5.15],[4.9,-5.2],[5.05,-5.2],[5.85,-5.1],[6.49,-5.2],[6.76,-5.2],[7.12,-5.15],[1.75,-5.95],[2.75,-6.1],[4.07,-6.1],[5.26,-6.15],[6.17,-6.1],[7.31,-6.15],[4.53,-7.0],[4.79,-7.0],[5.4,-7.05],[6.84,-7.0]];
const uSmooth = [[0,-0.18],[1,-0.28],[2,-0.36],[3,-0.42],[4,-0.46],[5,-0.5],[5.5,-0.52],[6,-0.58],[6.5,-0.68],[7,-0.8],[7.5,-0.92],[7.85,-1.0]];

// Panel titles and axis ticks
const panelTitles = ["A−Levels Graduate (yes/no)", "Age", "Ever Smoker (yes/no)", "Highschool Graduate (yes/no)", "Lehre (yes/no)", "Sex", "University Degree (yes/no)"];
const yTicks = [[-5, -2.5, 0, 2.5, 5], [0, 0.1, 0.2, 0.3], [-2, 0, 2], [-1, 0, 1, 2], [-2, -1, 0, 1], [-2, 0, 2, 4], [-4, 0, 4, 8]];
const yMinor = [[-3.75, -1.25, 1.25, 3.75, 6.25], [0.05, 0.15, 0.25], [-3, -1, 1], [-0.5, 0.5, 1.5], [-2.5, -1.5, -0.5, 0.5], [-1, 1, 3], [-6, -2, 2, 6]];
const yLimits = [[-5.88, 7.47], [-0.0237, 0.3061], [-3.56, 2.82], [-1.326, 2.316], [-2.647, 1.135], [-3.01, 4.26], [-7.79, 8.41]];
const yDecimals = [1, 1, 0, 0, 0, 0, 0];

// ---------------- LAYOUT / STYLE ----------------
const FONT = '"Liberation Sans", Arial, Helvetica, sans-serif';
const X_MIN = -0.38;
const X_MAX = 8.25;
const colLeft = [54.5, 266.5, 476];
const colWidth = [181, 181, 183];
const rowTop = [29, 237, 444.5];
const PANEL_H = 177;
const STRIP_H = 22.5;

// bands per panel: [data, opacity]
const panelBands: [number[][], number][][] = [
  [[aLevTop, 0.35], [aLev2, 0.45], [aLevMain, 0.7], [aLevBot, 0.35]],
  [[ageCloud, 0.38], [ageCore, 0.38]],
  [[esTop, 0.55], [esZero, 0.65], [esNeg, 0.7], [esBot, 0.55]],
  [[hsTop, 0.55], [hsSparseHi, 0.35], [hsSparseMid, 0.35], [hsBandA, 0.65], [hsBandB, 0.75], [hsBot, 0.35]],
  [[le09, 0.65], [le07, 0.4], [le05, 0.4], [le03, 0.4], [le00, 0.75], [leM03, 0.6], [leM06, 0.35], [leM12, 0.65], [leM14, 0.45], [leM17, 0.35], [leM20, 0.45], [leM23, 0.35]],
  [[sx38, 0.35], [sx32, 0.5], [sx15, 0.45], [sx08, 0.75], [sx00, 0.6], [sxM17, 0.45], [sxM24, 0.55]],
  [[uTop, 0.35], [u3, 0.35], [u2, 0.45], [u04, 0.7], [u05, 0.7], [u15, 0.7], [u23, 0.45], [uBot, 0.35]],
];
const panelSmooth = [aLevSmooth, ageSmooth, esSmooth, hsSmooth, leSmooth, sxSmooth, uSmooth];
const panelPos = [[0, 0], [0, 1], [0, 2], [1, 0], [1, 1], [1, 2], [2, 0]];
const showXAxis = [false, false, false, false, true, true, true];

function fmtY(v: number, d: number) {
  const s = v.toFixed(d);
  return s.replace("-", "\u2212");
}

export default function App() {
  const ref = useRef<HTMLDivElement>(null);
  useEffect(() => {
    if (!ref.current) return;
    const chart = echarts.init(ref.current, undefined, { renderer: "svg" });
    const grids: any[] = [];
    const xAxes: any[] = [];
    const yAxes: any[] = [];
    const series: any[] = [];
    const graphics: any[] = [];

    panelTitles.forEach((title, i) => {
      const [r, c] = panelPos[i];
      const left = colLeft[c];
      const width = colWidth[c];
      const top = rowTop[r];
      grids.push({
        left, top, width, height: PANEL_H,
        show: true, backgroundColor: "#ffffff", borderColor: "#333333", borderWidth: 1,
        containLabel: false, outerBoundsMode: "none",
      });
      xAxes.push({
        gridIndex: i, type: "value", min: X_MIN, max: X_MAX,
        axisLine: { show: false }, splitLine: { show: false },
        axisTick: { show: showXAxis[i], customValues: xTicks, length: 3.7, lineStyle: { color: "#333333", width: 1 } },
        axisLabel: { show: showXAxis[i], customValues: xTicks, margin: 6.5, color: "#4D4D4D", fontSize: 11.7, fontFamily: FONT, fontWeight: "normal" },
      });
      const d = yDecimals[i];
      yAxes.push({
        gridIndex: i, type: "value", min: yLimits[i][0], max: yLimits[i][1],
        axisLine: { show: false }, splitLine: { show: false },
        axisTick: { show: true, customValues: yTicks[i], length: 3.7, lineStyle: { color: "#333333", width: 1 } },
        axisLabel: { show: true, customValues: yTicks[i], margin: 6.5, color: "#4D4D4D", fontSize: 11.7, fontFamily: FONT, fontWeight: "normal", formatter: (v: number) => fmtY(v, d) },
      });
      const major = { color: "#EBEBEB", width: 1.1, type: "solid" };
      const minor = { color: "#EBEBEB", width: 0.55, type: "solid" };
      const mlData: any[] = [];
      xMinor.forEach((v) => mlData.push({ xAxis: v, lineStyle: minor }));
      yMinor[i].forEach((v) => mlData.push({ yAxis: v, lineStyle: minor }));
      xTicks.forEach((v) => mlData.push({ xAxis: v, lineStyle: major }));
      yTicks[i].forEach((v) => mlData.push({ yAxis: v, lineStyle: major }));
      series.push({
        type: "line", xAxisIndex: i, yAxisIndex: i, data: [], silent: true, z: 0,
        markLine: {
          z: 0, silent: true, symbol: ["none", "none"], animation: false,
          label: { show: false }, lineStyle: { type: "solid" },
          emphasis: { disabled: true }, data: mlData,
        },
      });
      panelBands[i].forEach(([data, op]) => {
        series.push({
          type: "scatter", xAxisIndex: i, yAxisIndex: i, data, symbol: "circle", symbolSize: 6.2,
          itemStyle: { color: `rgba(0,0,0,${op})`, borderWidth: 0 },
          emphasis: { disabled: true }, silent: true, z: 6, clip: true,
        });
      });
      series.push({
        type: "line", xAxisIndex: i, yAxisIndex: i, data: panelSmooth[i], smooth: 0.35,
        showSymbol: false, symbol: "none", lineStyle: { color: "#3366FF", width: 2.8 }, silent: true, z: 7, clip: true,
      });
      graphics.push({
        type: "rect", silent: true,
        shape: { x: left, y: top - STRIP_H, width, height: STRIP_H },
        style: { fill: "#D9D9D9", stroke: "#333333", lineWidth: 1 },
      });
      graphics.push({
        type: "text", silent: true, x: left + width / 2, y: top - STRIP_H / 2,
        style: { text: title, fill: "#1A1A1A", fontSize: 11.7, fontWeight: "normal", fontFamily: FONT, align: "center", verticalAlign: "middle" },
      });
    });

    graphics.push({
      type: "text", silent: true, x: 356, y: 649,
      style: { text: "Time in Years", fill: "#000000", fontSize: 14.7, fontWeight: "normal", fontFamily: FONT, align: "center", verticalAlign: "middle" },
    });
    graphics.push({
      type: "text", silent: true, x: 14, y: 325, rotation: Math.PI / 2,
      style: { text: "Beta(t)", fill: "#000000", fontSize: 14.7, fontWeight: "normal", fontFamily: FONT, align: "center", verticalAlign: "middle" },
    });

    chart.setOption({
      animation: false,
      backgroundColor: "#ffffff",
      grid: grids,
      xAxis: xAxes,
      yAxis: yAxes,
      series,
      graphic: graphics,
    });
    return () => chart.dispose();
  }, []);
  return <div ref={ref} style={{ position: "absolute", left: 0, top: 0, width: 664, height: 664 }} />;
}
